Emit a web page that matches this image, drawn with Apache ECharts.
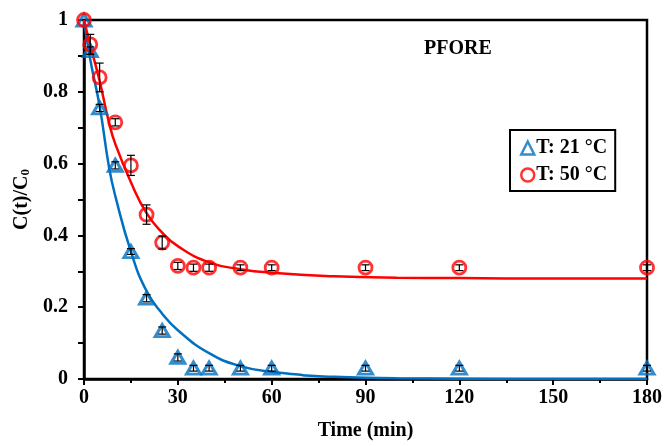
<!DOCTYPE html>
<html>
<head>
<meta charset="utf-8">
<script src="https://cdn.jsdelivr.net/npm/echarts@6/dist/echarts.min.js"></script>
<style>
  html, body { margin: 0; padding: 0; background: #fff; }
  #chart { width: 665px; height: 446px; }
</style>
</head>
<body>
<div id="chart"></div>
<script>
'use strict';

// measured points (time in min)
var times = [0, 2, 5, 10, 15, 20, 25, 30, 35, 40, 50, 60, 90, 120, 180];
var c21 = [1.0, 0.915, 0.755, 0.595, 0.355, 0.225, 0.135, 0.06, 0.03, 0.03, 0.03, 0.03, 0.03, 0.03, 0.03];
var c50 = [1.0, 0.932, 0.84, 0.715, 0.595, 0.458, 0.38, 0.315, 0.31, 0.31, 0.31, 0.31, 0.31, 0.31, 0.31];
var err21 = [0, 0.01, 0.01, 0.01, 0.008, 0.01, 0.01, 0.01, 0.008, 0.008, 0.008, 0.008, 0.008, 0.008, 0.008];
var err50 = [0, 0.028, 0.04, 0.01, 0.028, 0.027, 0.018, 0.01, 0.01, 0.01, 0.008, 0.008, 0.008, 0.008, 0.008];

// fitted curves
var fitTimes = [0, 2, 5, 8, 10, 15, 20, 25, 30, 40, 50, 60, 80, 100, 120, 150, 180];
var fit21 = [1.0, 0.89, 0.76, 0.59, 0.51, 0.355, 0.245, 0.182, 0.136, 0.072, 0.036, 0.02, 0.006, 0.002, 0.001, 0, 0];
var fit50 = [1.0, 0.93, 0.83, 0.714, 0.655, 0.548, 0.462, 0.408, 0.37, 0.325, 0.306, 0.296, 0.286, 0.282, 0.281, 0.28, 0.28];

var blue = '#0070C0';
var red = '#FF0000';
var font = '"Liberation Serif", "Times New Roman", serif';

function pairs(xs, ys) {
  return xs.map(function (x, i) { return [x, ys[i]]; });
}
function errData(ys, es) {
  return times.map(function (t, i) { return [t, ys[i] - es[i], ys[i] + es[i]]; });
}

function errorBar(params, api) {
  var lo = api.coord([api.value(0), api.value(1)]);
  var hi = api.coord([api.value(0), api.value(2)]);
  if (Math.abs(hi[1] - lo[1]) < 1) return;
  var w = 4;
  var st = { stroke: '#000', lineWidth: 1.2 };
  return {
    type: 'group',
    children: [
      { type: 'line', shape: { x1: lo[0], y1: lo[1], x2: hi[0], y2: hi[1] }, style: st },
      { type: 'line', shape: { x1: lo[0] - w, y1: lo[1], x2: lo[0] + w, y2: lo[1] }, style: st },
      { type: 'line', shape: { x1: hi[0] - w, y1: hi[1], x2: hi[0] + w, y2: hi[1] }, style: st }
    ]
  };
}

var myChart = echarts.init(document.getElementById('chart'));
var option = {
  backgroundColor: '#fff',
  animation: false,
  title: {
    text: 'PFORE',
    left: 419,
    top: 34,
    textStyle: { fontFamily: font, fontWeight: 'bold', fontSize: 20, color: '#000' }
  },
  grid: {
    left: 84, right: 15, top: 20, bottom: 67,
    show: true, borderColor: '#000', borderWidth: 2.5, backgroundColor: 'transparent'
  },
  legend: {
    orient: 'vertical',
    left: 510,
    top: 130,
    width: 108,
    padding: [8, 8, 6, 10],
    itemGap: 7,
    itemWidth: 13,
    itemHeight: 13,
    borderColor: '#000',
    borderWidth: 2,
    backgroundColor: '#fff',
    textStyle: { fontFamily: font, fontWeight: 'bold', fontSize: 20, color: '#000', padding: [0, 0, 0, -3] },
    data: [
      { name: 'T: 21 °C', icon: 'triangle', itemStyle: { color: 'transparent', borderColor: blue, borderWidth: 2.5 } },
      { name: 'T: 50 °C', icon: 'circle', itemStyle: { color: 'transparent', borderColor: red, borderWidth: 2.5 } }
    ]
  },
  xAxis: {
    type: 'value',
    min: 0, max: 180, interval: 30,
    name: 'Time (min)',
    nameLocation: 'middle',
    nameGap: 42,
    nameTextStyle: { fontFamily: font, fontWeight: 'bold', fontSize: 20, color: '#000' },
    axisLine: { lineStyle: { color: '#000', width: 2.5 } },
    axisTick: { length: 6, lineStyle: { color: '#000', width: 2 } },
    minorTick: { show: true, splitNumber: 2, length: 4, lineStyle: { color: '#000', width: 2 } },
    axisLabel: { fontFamily: font, fontWeight: 'bold', fontSize: 20, color: '#000', margin: 9 },
    splitLine: { show: false }
  },
  yAxis: {
    type: 'value',
    min: 0, max: 1, interval: 0.2,
    name: 'C(t)/C{sub|0}',
    nameLocation: 'middle',
    nameRotate: 90,
    nameGap: 51,
    nameTextStyle: {
      fontFamily: font, fontWeight: 'bold', fontSize: 20, color: '#000',
      rich: { sub: { fontFamily: font, fontWeight: 'bold', fontSize: 13, verticalAlign: 'bottom', padding: [8, 0, 0, 0] } }
    },
    axisLine: { lineStyle: { color: '#000', width: 2.5 } },
    axisTick: { length: 6, lineStyle: { color: '#000', width: 2 } },
    minorTick: { show: true, splitNumber: 2, length: 6, lineStyle: { color: '#000', width: 2 } },
    axisLabel: { fontFamily: font, fontWeight: 'bold', fontSize: 20, color: '#000', margin: 16 },
    splitLine: { show: false }
  },
  series: [
    {
      name: 'fit21', type: 'line', data: pairs(fitTimes, fit21), smooth: 0.5,
      showSymbol: false, lineStyle: { color: blue, width: 2.5 }, z: 2, silent: true
    },
    {
      name: 'fit50', type: 'line', data: pairs(fitTimes, fit50), smooth: 0.5,
      showSymbol: false, lineStyle: { color: red, width: 2.5 }, z: 2, silent: true
    },
    {
      name: 'T: 21 °C', type: 'scatter', data: pairs(times, c21),
      symbol: 'triangle', symbolSize: [14, 12],
      itemStyle: { color: 'transparent', borderColor: blue, borderWidth: 3 }, z: 3
    },
    {
      name: 'T: 50 °C', type: 'scatter', data: pairs(times, c50),
      symbol: 'circle', symbolSize: 13,
      itemStyle: { color: 'transparent', borderColor: red, borderWidth: 2.8 }, z: 3
    },
    {
      type: 'custom', data: errData(c21, err21), renderItem: errorBar, z: 4, silent: true
    },
    {
      type: 'custom', data: errData(c50, err50), renderItem: errorBar, z: 4, silent: true
    }
  ]
};
myChart.setOption(option);
</script>
</body>
</html>
